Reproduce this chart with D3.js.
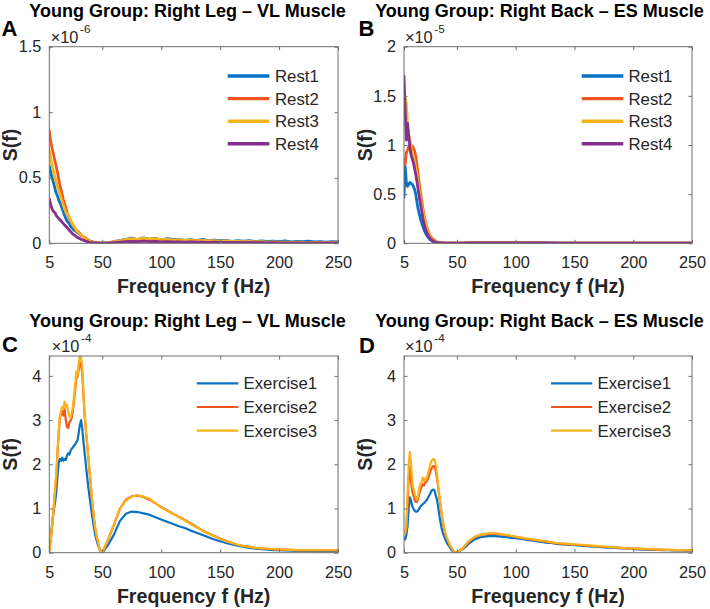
<!DOCTYPE html>
<html><head><meta charset="utf-8">
<script src="https://cdn.jsdelivr.net/npm/d3@7"></script>
<style>body{margin:0;background:#fff} svg{display:block}</style>
</head><body><svg id="chart" width="710" height="609"></svg>
<script>
// ---------------- DATA ----------------
const FREQ = [5,6,7,8,9,10,11,12,13,14,15,16,17,18,19,20,21,22,23,24,25,26,27,28,29,30,31,32,33,34,35,36,37,38,39,40,41,42,43,44,45,46,47,48,49,50,
  55,60,65,70,75,80,85,90,95,100,105,110,115,120,125,130,135,140,145,150,155,160,165,170,175,180,185,190,195,200,205,210,215,220,225,230,235,240,245,250];

const xTicks = [5,50,100,150,200,250];
const yTicksLegRest = [0,0.5,1,1.5];
const yTicksBackRest = [0,0.5,1,1.5,2];
const yTicksExercise = [0,1,2,3,4];

const restNames = ["Rest1","Rest2","Rest3","Rest4"];
const exerciseNames = ["Exercise1","Exercise2","Exercise3"];

// Panel A: Right Leg VL, rest (x1e-6)
const legRest1 = [0.59,0.55,0.51,0.48,0.45,0.41,0.38,0.36,0.33,0.31,0.29,0.26,0.24,0.21,0.19,0.17,0.16,0.15,0.13,0.12,0.11,0.10,0.095,0.09,0.08,0.075,0.068,0.06,0.055,0.05,0.042,0.035,0.03,0.024,0.02,0.016,0.012,0.01,0.008,0.006,0.005,0.004,0.003,0.002,0.001,0.001,
  0.004,0.012,0.022,0.03,0.04,0.028,0.042,0.03,0.038,0.025,0.035,0.028,0.03,0.022,0.028,0.02,0.03,0.018,0.025,0.02,0.022,0.015,0.02,0.016,0.02,0.012,0.018,0.014,0.016,0.012,0.018,0.01,0.014,0.012,0.016,0.01,0.012,0.008,0.012,0.01];
const legRest2 = [0.86,0.79,0.74,0.70,0.66,0.62,0.58,0.54,0.49,0.44,0.41,0.37,0.33,0.30,0.27,0.24,0.21,0.19,0.17,0.155,0.14,0.125,0.11,0.10,0.095,0.085,0.075,0.065,0.055,0.05,0.045,0.038,0.03,0.025,0.02,0.016,0.012,0.01,0.008,0.006,0.005,0.004,0.003,0.002,0.001,0.001,
  0.003,0.008,0.012,0.018,0.015,0.02,0.016,0.022,0.015,0.018,0.014,0.016,0.012,0.014,0.01,0.012,0.01,0.011,0.008,0.01,0.009,0.008,0.009,0.007,0.008,0.007,0.007,0.006,0.007,0.006,0.006,0.005,0.006,0.005,0.005,0.005,0.005,0.004,0.005,0.004];
const legRest3 = [0.71,0.66,0.61,0.57,0.53,0.50,0.46,0.43,0.40,0.38,0.35,0.32,0.29,0.26,0.24,0.23,0.22,0.20,0.18,0.16,0.14,0.13,0.115,0.10,0.09,0.08,0.07,0.065,0.055,0.05,0.04,0.033,0.027,0.022,0.018,0.014,0.011,0.009,0.007,0.005,0.004,0.003,0.003,0.002,0.001,0.001,
  0.004,0.012,0.02,0.028,0.035,0.03,0.04,0.032,0.035,0.028,0.03,0.025,0.028,0.022,0.025,0.02,0.022,0.018,0.02,0.016,0.018,0.014,0.015,0.012,0.014,0.01,0.012,0.009,0.01,0.008,0.009,0.007,0.008,0.006,0.007,0.006,0.006,0.005,0.006,0.005];
const legRest4 = [0.34,0.30,0.27,0.25,0.24,0.23,0.21,0.20,0.19,0.18,0.17,0.16,0.15,0.14,0.13,0.12,0.11,0.10,0.09,0.08,0.07,0.065,0.058,0.05,0.045,0.04,0.035,0.03,0.027,0.025,0.02,0.016,0.013,0.01,0.008,0.006,0.005,0.004,0.003,0.003,0.002,0.002,0.001,0.001,0.001,0.001,
  0.002,0.005,0.008,0.012,0.015,0.012,0.016,0.013,0.014,0.011,0.012,0.01,0.011,0.009,0.01,0.008,0.009,0.007,0.008,0.007,0.007,0.006,0.006,0.005,0.006,0.005,0.005,0.004,0.005,0.004,0.004,0.004,0.004,0.003,0.004,0.003,0.003,0.003,0.003,0.003];

// Panel B: Right Back ES, rest (x1e-5)
const backRest1 = [0.47,0.78,0.62,0.58,0.60,0.62,0.61,0.60,0.58,0.55,0.50,0.42,0.35,0.30,0.25,0.21,0.17,0.14,0.11,0.09,0.07,0.055,0.04,0.03,0.022,0.016,0.012,0.009,0.007,0.005,0.004,0.003,0.003,0.002,0.002,0.002,0.002,0.002,0.002,0.001,0.001,0.001,0.001,0.001,0.001,0.001,
  0.002,0.003,0.003,0.004,0.004,0.004,0.004,0.003,0.004,0.003,0.003,0.003,0.003,0.003,0.003,0.002,0.003,0.002,0.002,0.002,0.002,0.002,0.002,0.002,0.002,0.002,0.002,0.002,0.002,0.002,0.002,0.002,0.002,0.002,0.002,0.002,0.002,0.002,0.002,0.002];
const backRest2 = [0.85,0.80,0.92,0.95,0.98,1.00,1.00,0.99,0.97,0.94,0.88,0.80,0.70,0.60,0.52,0.44,0.36,0.29,0.23,0.18,0.14,0.11,0.085,0.065,0.05,0.04,0.03,0.022,0.016,0.012,0.009,0.007,0.005,0.004,0.003,0.003,0.002,0.002,0.002,0.002,0.001,0.001,0.001,0.001,0.001,0.001,
  0.002,0.003,0.004,0.004,0.005,0.004,0.004,0.004,0.003,0.003,0.003,0.003,0.003,0.003,0.002,0.002,0.002,0.002,0.002,0.002,0.002,0.002,0.002,0.002,0.002,0.002,0.002,0.002,0.002,0.002,0.002,0.002,0.002,0.002,0.002,0.002,0.002,0.002,0.002,0.002];
const backRest3 = [1.30,1.48,1.42,1.20,1.10,1.05,0.98,0.93,0.88,0.83,0.77,0.70,0.62,0.54,0.46,0.39,0.33,0.27,0.22,0.17,0.13,0.10,0.075,0.055,0.04,0.03,0.022,0.016,0.012,0.009,0.007,0.005,0.004,0.003,0.003,0.002,0.002,0.002,0.002,0.001,0.001,0.001,0.001,0.001,0.001,0.001,
  0.002,0.003,0.003,0.004,0.004,0.004,0.003,0.003,0.003,0.003,0.003,0.003,0.003,0.002,0.002,0.002,0.002,0.002,0.002,0.002,0.002,0.002,0.002,0.002,0.002,0.002,0.002,0.002,0.002,0.002,0.002,0.002,0.002,0.002,0.002,0.002,0.002,0.002,0.002,0.002];
const backRest4 = [1.70,1.35,1.05,1.22,1.10,0.98,0.90,0.86,0.82,0.76,0.70,0.63,0.55,0.47,0.40,0.33,0.26,0.20,0.16,0.12,0.095,0.07,0.055,0.04,0.03,0.022,0.016,0.012,0.009,0.007,0.005,0.004,0.003,0.003,0.002,0.002,0.002,0.002,0.001,0.001,0.001,0.001,0.001,0.001,0.001,0.001,
  0.002,0.003,0.004,0.005,0.005,0.005,0.004,0.004,0.004,0.003,0.003,0.003,0.003,0.003,0.003,0.003,0.002,0.002,0.002,0.002,0.002,0.002,0.002,0.002,0.002,0.002,0.002,0.002,0.002,0.002,0.002,0.002,0.002,0.002,0.002,0.002,0.002,0.002,0.002,0.002];

// Panel C: Right Leg VL, exercise (x1e-4)
const legEx1 = [0.15,0.30,0.55,0.80,1.00,1.15,1.40,1.75,2.05,2.12,2.08,2.15,2.08,2.12,2.10,2.20,2.25,2.22,2.30,2.35,2.38,2.42,2.45,2.50,2.55,2.72,2.90,3.00,2.80,2.50,2.25,2.00,1.75,1.50,1.30,1.10,0.90,0.72,0.55,0.40,0.30,0.20,0.12,0.06,0.02,0.00,
  0.18,0.42,0.72,0.88,0.93,0.92,0.89,0.86,0.80,0.75,0.70,0.65,0.60,0.56,0.50,0.45,0.40,0.35,0.30,0.26,0.22,0.19,0.16,0.13,0.11,0.09,0.08,0.07,0.06,0.055,0.05,0.045,0.04,0.04,0.035,0.035,0.03,0.03,0.03,0.03];
const legEx2 = [0.05,0.22,0.48,0.78,1.08,1.42,1.78,2.28,2.72,3.05,3.15,3.20,3.10,3.25,3.00,2.85,2.82,2.95,2.98,3.05,3.20,3.45,3.70,3.95,3.98,4.15,4.30,4.25,4.05,3.55,3.10,2.78,2.48,2.18,1.88,1.58,1.27,1.00,0.75,0.55,0.40,0.27,0.15,0.07,0.02,0.00,
  0.30,0.64,1.00,1.20,1.28,1.29,1.26,1.20,1.12,1.03,0.96,0.88,0.81,0.74,0.66,0.58,0.50,0.44,0.38,0.32,0.27,0.22,0.18,0.15,0.13,0.11,0.10,0.09,0.08,0.075,0.07,0.065,0.06,0.06,0.058,0.056,0.055,0.055,0.055,0.055];
const legEx3 = [0.05,0.25,0.50,0.80,1.10,1.45,1.80,2.30,2.75,3.10,3.20,3.30,3.25,3.42,3.30,3.35,3.20,3.10,3.05,3.15,3.30,3.55,3.80,4.10,4.00,4.30,4.48,4.40,4.20,3.60,3.15,2.80,2.50,2.20,1.90,1.60,1.28,1.00,0.75,0.55,0.40,0.27,0.15,0.07,0.02,0.00,
  0.30,0.65,1.00,1.18,1.27,1.30,1.27,1.22,1.12,1.02,0.95,0.88,0.80,0.73,0.65,0.57,0.50,0.43,0.37,0.31,0.26,0.22,0.18,0.15,0.13,0.11,0.10,0.09,0.08,0.075,0.07,0.065,0.06,0.06,0.058,0.056,0.055,0.055,0.055,0.055];

// Panel D: Right Back ES, exercise (x1e-4)
const backEx1 = [0.33,0.30,0.40,0.60,1.00,1.25,1.18,1.05,1.00,0.95,0.93,0.93,0.95,1.00,1.05,1.07,1.10,1.12,1.15,1.18,1.22,1.27,1.32,1.38,1.42,1.43,1.40,1.30,1.20,1.05,0.85,0.70,0.55,0.45,0.38,0.31,0.25,0.20,0.16,0.12,0.08,0.05,0.03,0.015,0.005,0.00,
  0.08,0.20,0.30,0.35,0.37,0.38,0.37,0.36,0.34,0.33,0.31,0.29,0.27,0.25,0.23,0.22,0.20,0.19,0.18,0.17,0.16,0.15,0.14,0.13,0.12,0.115,0.11,0.10,0.095,0.08,0.075,0.07,0.066,0.062,0.058,0.055,0.052,0.05,0.047,0.045];
const backEx2 = [0.50,0.45,0.55,1.10,1.70,1.95,1.60,1.40,1.30,1.20,1.15,1.15,1.22,1.35,1.42,1.50,1.55,1.52,1.58,1.60,1.65,1.72,1.80,1.88,1.93,1.96,1.95,1.85,1.70,1.50,1.27,1.07,0.88,0.70,0.56,0.45,0.36,0.29,0.23,0.17,0.12,0.08,0.05,0.025,0.008,0.00,
  0.10,0.25,0.35,0.40,0.42,0.43,0.42,0.40,0.38,0.36,0.33,0.31,0.29,0.27,0.25,0.23,0.21,0.20,0.19,0.18,0.17,0.16,0.15,0.14,0.13,0.125,0.12,0.11,0.10,0.09,0.085,0.08,0.075,0.07,0.065,0.062,0.06,0.058,0.055,0.052];
const backEx3 = [0.50,0.45,0.60,1.30,2.00,2.28,2.00,1.60,1.45,1.35,1.25,1.20,1.30,1.45,1.55,1.60,1.70,1.62,1.68,1.65,1.75,1.85,1.95,2.05,2.10,2.12,2.10,2.00,1.80,1.55,1.30,1.10,0.90,0.72,0.58,0.46,0.37,0.30,0.24,0.18,0.13,0.09,0.05,0.025,0.008,0.00,
  0.10,0.26,0.36,0.41,0.43,0.44,0.43,0.41,0.39,0.36,0.34,0.32,0.30,0.28,0.26,0.24,0.22,0.21,0.20,0.19,0.18,0.17,0.16,0.15,0.14,0.13,0.12,0.11,0.10,0.095,0.09,0.085,0.08,0.075,0.07,0.066,0.063,0.06,0.057,0.055];

// ---------------- DRAWING ----------------
const FONT = "'Liberation Sans', Arial, Helvetica, sans-serif";
const C_BLUE = "#0a72c4", C_ORANGE = "#f0561d", C_YELLOW = "#f8b21c", C_PURPLE = "#85308f";
const svg = d3.select("#chart");
svg.append("rect").attr("width",710).attr("height",609).attr("fill","#fff");

const panels = [
  {id:"A", x0:49.3, x1:338, y0:46.7, y1:243.3, ymax:1.5, yTicks:yTicksLegRest,
   series:[legRest1,legRest2,legRest3,legRest4], names:restNames, colors:[C_BLUE,C_ORANGE,C_YELLOW,C_PURPLE], lw:2.8,
   leg:{lx0:227.7, lx1:269.3, tx:275, y0:76, dy:22.6, lw:3.4},
   title:"Young Group: Right Leg \u2013 VL Muscle", titleX:187.5, titleY:16.5,
   letterX:1.5, letterY:36, exp:"-6", expX:50.7, expY:42.7, ylabX:17},
  {id:"B", x0:404, x1:692, y0:46.7, y1:243.3, ymax:2, yTicks:yTicksBackRest,
   series:[backRest1,backRest2,backRest3,backRest4], names:restNames, colors:[C_BLUE,C_ORANGE,C_YELLOW,C_PURPLE], lw:2.8,
   leg:{lx0:581.7, lx1:623.3, tx:628.5, y0:76, dy:22.6, lw:3.4},
   title:"Young Group: Right Back \u2013 ES Muscle", titleX:539.5, titleY:16.5,
   letterX:358.5, letterY:36, exp:"-5", expX:405, expY:42.7, ylabX:371.7},
  {id:"C", x0:49.3, x1:338, y0:356, y1:552.7, ymax:4.45, yTicks:yTicksExercise,
   series:[legEx1,legEx2,legEx3], names:exerciseNames, colors:[C_BLUE,C_ORANGE,C_YELLOW], lw:2.2,
   leg:{lx0:196.7, lx1:238.3, tx:243.5, y0:383.3, dy:23.7, lw:2.2},
   title:"Young Group: Right Leg \u2013 VL Muscle", titleX:187.5, titleY:326.5,
   letterX:2, letterY:352, exp:"-4", expX:51.7, expY:351.7, ylabX:17},
  {id:"D", x0:404, x1:692, y0:356, y1:552.7, ymax:4.45, yTicks:yTicksExercise,
   series:[backEx1,backEx2,backEx3], names:exerciseNames, colors:[C_BLUE,C_ORANGE,C_YELLOW], lw:2.2,
   leg:{lx0:551, lx1:592.3, tx:597.5, y0:383.3, dy:23.7, lw:2.2},
   title:"Young Group: Right Back \u2013 ES Muscle", titleX:539.5, titleY:326.5,
   letterX:359, letterY:353, exp:"-4", expX:405, expY:351.7, ylabX:371.7}
];

const AX_COLOR = "#6f6f6f", TXT = "#262626", TICK_FS = 16.3;

function styleAxis(g) {
  g.attr("font-family", FONT).attr("font-size", TICK_FS);
  g.select(".domain").remove();
  g.selectAll(".tick line").attr("stroke", AX_COLOR).attr("stroke-width", 1);
  g.selectAll(".tick text").attr("fill", TXT);
}

panels.forEach(p => {
  const x = d3.scaleLinear().domain([5, 250]).range([p.x0, p.x1]);
  const y = d3.scaleLinear().domain([0, p.ymax]).range([p.y1, p.y0]);
  const g = svg.append("g");

  g.append("clipPath").attr("id", "clip" + p.id)
    .append("rect").attr("x", p.x0).attr("y", p.y0)
    .attr("width", p.x1 - p.x0).attr("height", p.y1 - p.y0);

  const line = d3.line().x((d, i) => x(FREQ[i])).y(d => y(d));
  const lines = g.append("g").attr("clip-path", "url(#clip" + p.id + ")");
  p.series.forEach((s, k) => {
    lines.append("path").datum(s).attr("d", line)
      .attr("fill", "none").attr("stroke", p.colors[k]).attr("stroke-width", p.lw)
      .attr("stroke-linejoin", "round").attr("stroke-linecap", "round");
  });

  // axes
  const tl = 3.5;
  g.append("g").attr("transform", `translate(0,${p.y1})`)
    .call(d3.axisBottom(x).tickValues(xTicks).tickSizeInner(-tl).tickSizeOuter(0).tickPadding(13.4).tickFormat(d => String(d)))
    .call(styleAxis);
  g.append("g").attr("transform", `translate(0,${p.y0})`)
    .call(d3.axisTop(x).tickValues(xTicks).tickSizeInner(-tl).tickSizeOuter(0).tickFormat(""))
    .call(styleAxis);
  g.append("g").attr("transform", `translate(${p.x0},0)`)
    .call(d3.axisLeft(y).tickValues(p.yTicks).tickSizeInner(-tl).tickSizeOuter(0).tickPadding(8).tickFormat(d => String(d)))
    .call(styleAxis);
  g.append("g").attr("transform", `translate(${p.x1},0)`)
    .call(d3.axisRight(y).tickValues(p.yTicks).tickSizeInner(-tl).tickSizeOuter(0).tickFormat(""))
    .call(styleAxis);

  g.append("rect").attr("x", p.x0).attr("y", p.y0)
    .attr("width", p.x1 - p.x0).attr("height", p.y1 - p.y0)
    .attr("fill", "none").attr("stroke", AX_COLOR).attr("stroke-width", 1);

  // legend
  p.names.forEach((n, k) => {
    const ly = p.leg.y0 + k * p.leg.dy;
    g.append("line").attr("x1", p.leg.lx0).attr("x2", p.leg.lx1).attr("y1", ly).attr("y2", ly)
      .attr("stroke", p.colors[k]).attr("stroke-width", p.leg.lw);
    g.append("text").attr("x", p.leg.tx).attr("y", ly + 6).text(n)
      .attr("font-family", FONT).attr("font-size", 16.8).attr("fill", TXT);
  });

  // exponent
  g.append("text").attr("x", p.expX).attr("y", p.expY).text("\u00d710")
    .attr("font-family", FONT).attr("font-size", TICK_FS).attr("fill", TXT);
  g.append("text").attr("x", p.expX + 29.3).attr("y", p.expY - 9.4).text(p.exp)
    .attr("font-family", FONT).attr("font-size", 11.8).attr("fill", TXT);

  // x label
  g.append("text").attr("x", (p.x0 + p.x1) / 2).attr("y", p.y1 + 50)
    .attr("text-anchor", "middle").text("Frequency f (Hz)")
    .attr("font-family", FONT).attr("font-size", 19.6).attr("font-weight", "bold").attr("fill", TXT);

  // y label
  g.append("text").attr("transform", `translate(${p.ylabX},${(p.y0 + p.y1) / 2}) rotate(-90)`)
    .attr("text-anchor", "middle").text("S(f)")
    .attr("font-family", FONT).attr("font-size", 19.6).attr("font-weight", "bold").attr("fill", TXT);

  // title
  g.append("text").attr("x", p.titleX).attr("y", p.titleY).attr("text-anchor", "middle").text(p.title)
    .attr("font-family", FONT).attr("font-size", 18).attr("font-weight", "bold").attr("fill", "#000");

  // panel letter
  g.append("text").attr("x", p.letterX).attr("y", p.letterY).text(p.id)
    .attr("font-family", FONT).attr("font-size", 22).attr("font-weight", "bold").attr("fill", "#000");
});
</script>
</body></html>
